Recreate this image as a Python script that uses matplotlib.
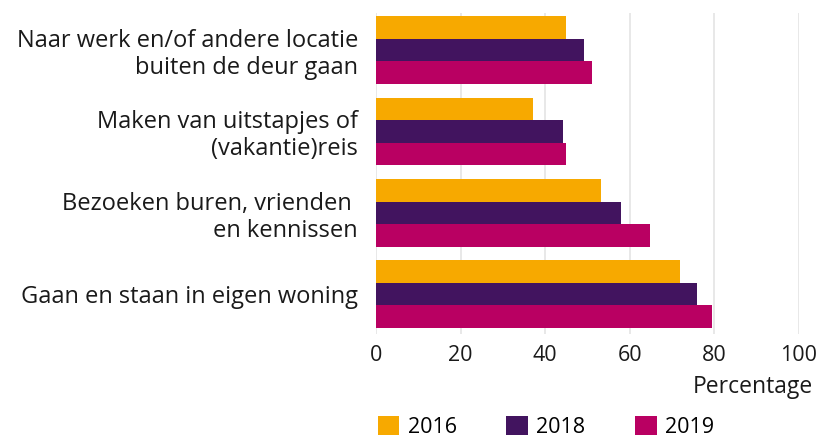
import numpy as np
import matplotlib
matplotlib.use("Agg")
import matplotlib.pyplot as plt

plt.rcParams["font.family"] = ["Open Sans", "DejaVu Sans"]

categories = [
    "Naar werk en/of andere locatie\nbuiten de deur gaan",
    "Maken van uitstapjes of\n(vakantie)reis",
    "Bezoeken buren, vrienden \nen kennissen",
    "Gaan en staan in eigen woning",
]
years = ["2016", "2018", "2019"]
values_2016 = [45.0, 37.2, 53.2, 72.0]
values_2018 = [49.1, 44.3, 58.0, 76.0]
values_2019 = [51.2, 45.0, 64.9, 79.6]
colors = ["#F7A900", "#42145F", "#B90062"]

fig = plt.figure(figsize=(8.18, 4.37), dpi=100)
ax = fig.add_axes([376 / 818, 1 - 334 / 437, (798.7 - 376) / 818, (334 - 13) / 437])

y = np.arange(len(categories))
h = 0.278
for i, (vals, yr, c) in enumerate(zip([values_2016, values_2018, values_2019], years, colors)):
    ax.barh(y + (i - 1) * h, vals, height=h, color=c, label=yr, zorder=2)

ax.set_xlim(0, 100)
ax.set_ylim(3.49, -0.457)
ax.set_xticks(range(0, 101, 20))
ax.set_yticks(y)
ax.set_yticklabels(categories, fontsize=17, linespacing=1.15)
ax.tick_params(axis="y", length=0, pad=13, labelcolor="#1a1a1a")
ax.tick_params(axis="x", length=0, pad=8, labelsize=15.5, labelcolor="#1a1a1a")
ax.grid(axis="x", color="#e6e6e6", linewidth=1.3, zorder=0)
for s in ax.spines.values():
    s.set_visible(False)

fig.text(813 / 818, 1 - 387 / 437, "Percentage", ha="right", va="center",
         fontsize=16.5, color="#1a1a1a")

fig.legend(loc="center", bbox_to_anchor=(546 / 818, 1 - 427 / 437), ncol=3,
           frameon=False, fontsize=15.5, handlelength=1.0, handleheight=1.0,
           handletextpad=0.4, columnspacing=2.3, borderpad=0)

fig.savefig("out.png", dpi=100)
